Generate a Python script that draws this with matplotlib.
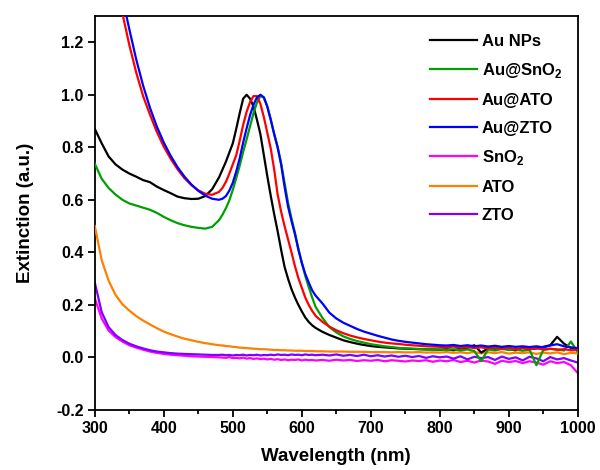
import matplotlib
matplotlib.use("Agg")
import matplotlib.pyplot as plt
import numpy as np

plt.rcParams['font.family'] = ['Liberation Sans', 'DejaVu Sans']
plt.rcParams['font.weight'] = 'bold'
plt.rcParams['mathtext.fontset'] = 'custom'
plt.rcParams['mathtext.rm'] = 'Liberation Sans:bold'
plt.rcParams['mathtext.bf'] = 'Liberation Sans:bold'

# wavelength grid (nm): coarse, fine around the plasmon peak, coarse tail
wl = np.concatenate([np.arange(300, 471, 10), np.arange(480, 621, 5), np.arange(630, 1001, 10)])

au_nps = [0.87, 0.815, 0.765, 0.735, 0.715, 0.700, 0.688, 0.675, 0.667, 0.650, 0.637, 0.625, 0.612, 0.606, 0.603, 0.604, 0.614, 0.640,
          0.685, 0.715, 0.745, 0.780, 0.815, 0.870, 0.930, 0.985, 1.000, 0.985, 0.955, 0.905, 0.850, 0.770, 0.690, 0.615, 0.545,
          0.480, 0.410, 0.345, 0.300, 0.260, 0.228, 0.200, 0.175, 0.152, 0.135, 0.122, 0.112,
          0.097, 0.085, 0.075, 0.065, 0.058, 0.052, 0.047, 0.043, 0.040, 0.038, 0.036, 0.034, 0.033, 0.032, 0.031, 0.030,
          0.030, 0.029, 0.031, 0.027, 0.033, 0.036, 0.046, 0.018, 0.034, 0.029, 0.036, 0.030, 0.027, 0.036, 0.031, 0.034,
          0.040, 0.046, 0.078, 0.052, 0.036, 0.030]

au_sno2 = [0.737, 0.680, 0.645, 0.620, 0.600, 0.586, 0.578, 0.570, 0.562, 0.550, 0.535, 0.522, 0.511, 0.503, 0.497, 0.493, 0.490, 0.497,
           0.522, 0.543, 0.568, 0.598, 0.638, 0.683, 0.730, 0.782, 0.830, 0.880, 0.930, 0.970, 0.995, 0.990, 0.955, 0.905, 0.850,
           0.800, 0.740, 0.665, 0.590, 0.530, 0.475, 0.415, 0.360, 0.310, 0.268, 0.228, 0.192,
           0.150, 0.115, 0.095, 0.080, 0.070, 0.062, 0.056, 0.050, 0.046, 0.042, 0.039, 0.036, 0.034, 0.033, 0.032, 0.031,
           0.030, 0.030, 0.028, 0.031, 0.026, 0.030, 0.024, -0.015, 0.030, 0.026, 0.032, 0.028, 0.030, 0.025, 0.029, -0.030,
           0.028, 0.032, 0.030, 0.026, 0.060, 0.020]

au_ato = [1.85, 1.70, 1.56, 1.43, 1.31, 1.19, 1.085, 0.995, 0.924, 0.858, 0.802, 0.756, 0.716, 0.682, 0.656, 0.636, 0.623, 0.619,
          0.630, 0.645, 0.668, 0.700, 0.735, 0.770, 0.825, 0.885, 0.935, 0.972, 0.995, 0.995, 0.965, 0.915, 0.855, 0.795, 0.715,
          0.620, 0.555, 0.500, 0.450, 0.400, 0.348, 0.302, 0.265, 0.228, 0.200, 0.177, 0.158,
          0.135, 0.117, 0.103, 0.092, 0.083, 0.076, 0.070, 0.065, 0.060, 0.056, 0.053, 0.051, 0.048, 0.046, 0.044, 0.042,
          0.041, 0.040, 0.038, 0.041, 0.036, 0.039, 0.035, 0.038, 0.034, 0.037, 0.033, 0.036, 0.032, 0.035, 0.031, 0.034,
          0.030, 0.033, 0.029, 0.031, 0.027, 0.028]

au_zto = [1.95, 1.80, 1.64, 1.50, 1.37, 1.25, 1.135, 1.035, 0.950, 0.878, 0.818, 0.767, 0.724, 0.688, 0.658, 0.634, 0.616, 0.604,
          0.600, 0.604, 0.614, 0.635, 0.665, 0.708, 0.758, 0.818, 0.872, 0.922, 0.962, 0.990, 1.000, 0.990, 0.955, 0.905, 0.850,
          0.800, 0.735, 0.650, 0.575, 0.520, 0.470, 0.410, 0.360, 0.318, 0.285, 0.255, 0.235,
          0.205, 0.170, 0.148, 0.132, 0.120, 0.108, 0.098, 0.090, 0.082, 0.075, 0.068, 0.063, 0.059, 0.056, 0.053, 0.050,
          0.048, 0.046, 0.045, 0.047, 0.043, 0.046, 0.042, 0.045, 0.041, 0.044, 0.040, 0.043, 0.040, 0.042, 0.039, 0.042,
          0.038, 0.045, 0.050, 0.042, 0.038, 0.035]

sno2 = [0.225, 0.148, 0.102, 0.077, 0.060, 0.046, 0.037, 0.029, 0.022, 0.017, 0.013, 0.010, 0.008, 0.006, 0.004, 0.003, 0.002, 0.001,
        0.000, -0.001, -0.002, 0.001, -0.003, -0.002, -0.004, -0.001, -0.005, -0.003, -0.006, -0.004, -0.007, -0.005, -0.008,
        -0.006, -0.009, -0.007, -0.010, -0.008, -0.011, -0.009, -0.010, -0.008, -0.012, -0.009, -0.011, -0.010, -0.012,
        -0.010, -0.013, -0.009, -0.012, -0.010, -0.014, -0.011, -0.013, -0.010, -0.015, -0.011, -0.013, -0.016, -0.012,
        -0.014, -0.011, -0.017, -0.012, -0.015, -0.010, -0.018, -0.013, -0.020, -0.012, -0.016, -0.025, -0.013, -0.018,
        -0.014, -0.022, -0.015, -0.020, -0.028, -0.015, -0.022, -0.018, -0.030, -0.060]

ato = [0.500, 0.370, 0.292, 0.238, 0.202, 0.178, 0.157, 0.140, 0.125, 0.111, 0.098, 0.088, 0.079, 0.071, 0.065, 0.059, 0.054, 0.050,
       0.046, 0.045, 0.043, 0.042, 0.040, 0.039, 0.037, 0.036, 0.035, 0.034, 0.033, 0.032, 0.031, 0.031, 0.030, 0.029, 0.028,
       0.028, 0.027, 0.027, 0.026, 0.026, 0.025, 0.025, 0.025, 0.024, 0.024, 0.024, 0.023,
       0.023, 0.022, 0.022, 0.022, 0.021, 0.021, 0.021, 0.020, 0.020, 0.020, 0.019, 0.020, 0.019, 0.019, 0.020, 0.018,
       0.019, 0.018, 0.020, 0.017, 0.019, 0.016, 0.020, 0.015, 0.019, 0.016, 0.020, 0.014, 0.018, 0.016, 0.019, 0.013,
       0.018, 0.015, 0.019, 0.012, 0.017, 0.015]

zto = [0.285, 0.172, 0.115, 0.085, 0.066, 0.052, 0.042, 0.034, 0.027, 0.022, 0.019, 0.016, 0.014, 0.013, 0.012, 0.011, 0.010, 0.009,
       0.009, 0.010, 0.008, 0.009, 0.007, 0.009, 0.008, 0.010, 0.007, 0.009, 0.008, 0.010, 0.007, 0.009, 0.008, 0.010,
       0.008, 0.011, 0.009, 0.010, 0.008, 0.011, 0.009, 0.010, 0.008, 0.011, 0.009, 0.010, 0.008,
       0.010, 0.007, 0.011, 0.006, 0.009, 0.005, 0.010, 0.004, 0.008, 0.003, 0.007, 0.002, 0.006, 0.001, 0.005, -0.002,
       0.004, 0.000, 0.003, -0.005, 0.004, -0.008, 0.002, -0.003, 0.001, -0.010, 0.003, -0.006, 0.000, -0.012, 0.002,
       -0.004, -0.015, 0.001, -0.008, -0.003, -0.012, -0.020]

labels = ['Au NPs', r'Au@SnO$_\mathbf{2}$', 'Au@ATO', 'Au@ZTO', r'SnO$_\mathbf{2}$', 'ATO', 'ZTO']
colors = ['#000000', '#00a000', '#ff0000', '#0000ff', '#ff00ff', '#ff8000', '#8000ff']
series = [au_nps, au_sno2, au_ato, au_zto, sno2, ato, zto]
zorders = [3, 3, 3, 3, 2, 2.6, 2.4]

fig = plt.figure(figsize=(6, 4.7), dpi=100)
ax = fig.add_axes([0.158, 0.128, 0.805, 0.838])

for y, lab, c, z in zip(series, labels, colors, zorders):
    ax.plot(wl, y, color=c, lw=1.6, label=lab, zorder=z)

ax.set_xlim(300, 1000)
ax.set_ylim(-0.2, 1.3)
ax.set_xticks(np.arange(300, 1001, 100))
ax.set_xticks(np.arange(350, 1000, 100), minor=True)
ax.set_yticks(np.arange(-0.2, 1.21, 0.2))
ax.yaxis.set_major_formatter(matplotlib.ticker.FormatStrFormatter('%.1f'))
ax.tick_params(which='major', direction='out', length=5, width=1.3, labelsize=11.5, pad=3)
ax.tick_params(which='minor', direction='out', length=3, width=1.3)
for s in ax.spines.values():
    s.set_linewidth(1.3)

ax.set_xlabel('Wavelength (nm)', fontsize=13.5, fontweight='bold', labelpad=9)
ax.set_ylabel('Extinction (a.u.)', fontsize=13.5, fontweight='bold', labelpad=16)

ax.legend(loc='upper left', bbox_to_anchor=(0.67, 0.985), frameon=False, fontsize=12,
          handlelength=2.8, handletextpad=0.3, labelspacing=0.76, borderaxespad=0.3)

fig.savefig('out.png', dpi=100)
